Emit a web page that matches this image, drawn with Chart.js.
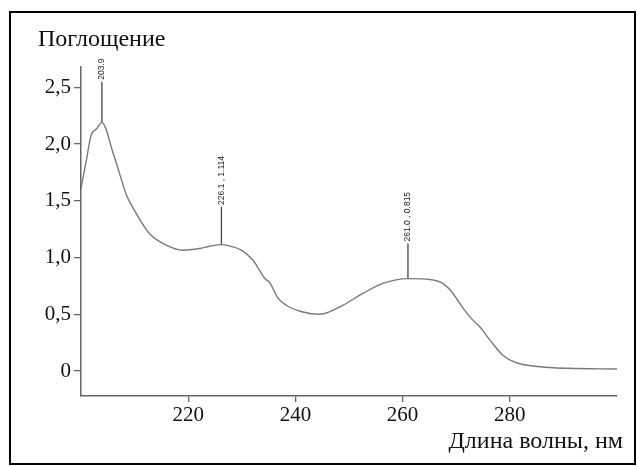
<!DOCTYPE html>
<html>
<head>
<meta charset="utf-8">
<script src="https://cdn.jsdelivr.net/npm/chart.js@4"></script>
<style>
html,body{margin:0;padding:0;background:#fff;}
#wrap{width:637px;height:466px;position:relative;}
</style>
</head>
<body>
<div id="wrap"><canvas id="c" width="637" height="466"></canvas></div>
<script>
// Spectrum (wavelength, nm) and absorbance
const wavelength = [200, 200.95, 201.9, 202.9, 203.9, 206.0, 207.2, 208.5, 210.3, 212.8, 215.9, 219.0, 222.1, 224.0, 226.2, 228.3, 229.9, 232.1, 234.3, 235.2, 236.8, 238.3, 241.4, 244.5, 248.3, 252.6, 256.3, 261.0, 265.1, 267.5, 269.4, 271.3, 272.8, 274.4, 276.3, 278.7, 281.2, 285.6, 290.9, 300];
const absorbance = [1.61, 1.845, 2.08, 2.135, 2.19, 1.92, 1.74, 1.55, 1.39, 1.21, 1.11, 1.065, 1.08, 1.10, 1.114, 1.095, 1.065, 0.977, 0.816, 0.78, 0.64, 0.58, 0.52, 0.50, 0.566, 0.684, 0.772, 0.815, 0.807, 0.772, 0.684, 0.552, 0.464, 0.39, 0.273, 0.14, 0.073, 0.038, 0.024, 0.018];

// Peak markers
const peakX = [203.9, 226.2, 261.0];
const peakY = [2.19, 1.114, 0.815];
const peakTop = [2.55, 1.446, 1.124];
const peakLabels = ['203.9', '226.1 , 1.114', '261.0 , 0.815'];

// Axes
const xTicks = [220, 240, 260, 280];
const yTicks = [0, 0.5, 1, 1.5, 2, 2.5];
const yTickLabels = ['0', '0,5', '1,0', '1,5', '2,0', '2,5'];
const yTitle = 'Поглощение';
const xTitle = 'Длина волны, нм';

const SERIF = '"Liberation Serif", "Times New Roman", serif';
const SANS = '"Liberation Sans", Arial, sans-serif';

const curve = wavelength.map((w, i) => ({x: w, y: absorbance[i]}));
const markerSets = peakX.map((px, i) => ({
  data: [{x: px, y: peakY[i]}, {x: px, y: peakTop[i]}],
  borderColor: '#444',
  borderWidth: 1.3,
  pointRadius: 0,
  tension: 0
}));

const framePlugin = {
  id: 'frame',
  beforeDraw(chart) {
    const ctx = chart.ctx;
    ctx.save();
    ctx.fillStyle = '#fff';
    ctx.fillRect(0, 0, chart.width, chart.height);
    ctx.restore();
  },
  afterDraw(chart) {
    const ctx = chart.ctx;
    ctx.save();
    ctx.strokeStyle = '#000';
    ctx.lineWidth = 2;
    ctx.strokeRect(10, 12, 625, 452);
    ctx.fillStyle = '#111';
    ctx.font = '24px ' + SERIF;
    ctx.textBaseline = 'alphabetic';
    ctx.textAlign = 'left';
    ctx.fillText(yTitle, 38, 46);
    ctx.textAlign = 'right';
    ctx.fillText(xTitle, 623, 448);
    ctx.restore();
  }
};

const peakLabelPlugin = {
  id: 'peakLabels',
  afterDatasetsDraw(chart) {
    const ctx = chart.ctx;
    const xs = chart.scales.x, ys = chart.scales.y;
    ctx.save();
    ctx.fillStyle = '#222';
    ctx.font = '8.5px ' + SANS;
    peakX.forEach((px, i) => {
      const X = xs.getPixelForValue(px);
      const Y = ys.getPixelForValue(peakTop[i]);
      ctx.save();
      ctx.translate(X, Y - 2);
      ctx.rotate(-Math.PI / 2);
      ctx.textAlign = 'left';
      ctx.textBaseline = 'middle';
      ctx.fillText(peakLabels[i], 0, 0);
      ctx.restore();
    });
    ctx.restore();
  }
};

new Chart(document.getElementById('c'), {
  type: 'line',
  data: {
    datasets: [{
      data: curve,
      borderColor: '#7a7a7a',
      borderWidth: 1.4,
      pointRadius: 0,
      cubicInterpolationMode: 'monotone'
    }, ...markerSets]
  },
  options: {
    responsive: false,
    animation: false,
    events: [],
    layout: {padding: {top: 67, right: 20, left: 0, bottom: 0}},
    plugins: {legend: {display: false}, tooltip: {enabled: false}, title: {display: false}},
    scales: {
      x: {
        type: 'linear',
        min: 200,
        max: 300,
        afterBuildTicks(s) { s.ticks = xTicks.map(v => ({value: v})); },
        afterFit(s) { s.height = 466 - 396; },
        border: {display: true, color: '#666', width: 1.5},
        grid: {drawOnChartArea: false, drawTicks: true, tickLength: 6, color: '#666', lineWidth: 1.3},
        ticks: {
          color: '#111',
          font: {family: SERIF, size: 21},
          padding: 1,
          maxRotation: 0,
          autoSkip: false,
          callback: v => String(v)
        }
      },
      y: {
        type: 'linear',
        min: -0.22,
        max: 2.68,
        afterBuildTicks(s) { s.ticks = yTicks.map(v => ({value: v})); },
        afterFit(s) { s.width = 81; },
        border: {display: true, color: '#666', width: 1.5},
        grid: {drawOnChartArea: false, drawTicks: true, tickLength: 7, color: '#666', lineWidth: 1.3},
        ticks: {
          color: '#111',
          font: {family: SERIF, size: 21},
          padding: 3,
          autoSkip: false,
          callback: v => yTickLabels[yTicks.indexOf(v)]
        }
      }
    }
  },
  plugins: [framePlugin, peakLabelPlugin]
});
</script>
</body>
</html>
